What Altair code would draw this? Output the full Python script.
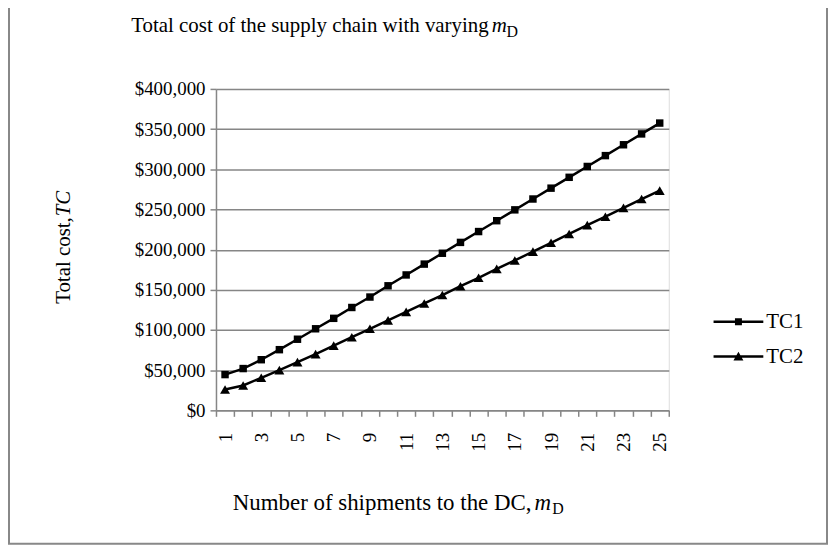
import altair as alt
import pandas as pd

# ---- data ----
shipments = list(range(1, 26))
tc1 = [44500, 52000, 63000, 75500, 88500, 101500, 114500, 128000, 141000, 155000,
       168500, 182000, 195500, 209000, 222500, 236000, 249500, 263000, 276500, 290000,
       303500, 317000, 330500, 344000, 357500]
tc2 = [26000, 31000, 40500, 50000, 60000, 70000, 80500, 91000, 101500, 112000,
       122500, 133000, 143500, 154500, 165000, 176000, 186500, 197500, 208500, 219500,
       230500, 241000, 252000, 263000, 273500]
series_names = ["TC1", "TC2"]
y_ticks = [0, 50000, 100000, 150000, 200000, 250000, 300000, 350000, 400000]

title_main = "Total cost of the supply chain with varying"
x_title_main = "Number of shipments to the DC,"
y_title_main = "Total cost, "
y_title_ital = "TC"

rows = []
for name, vals in zip(series_names, [tc1, tc2]):
    for m, v in zip(shipments, vals):
        rows.append({"m": m, "cost": v, "series": name})
df = pd.DataFrame(rows)

FONT = "Liberation Serif"
GRID = "#868686"
W, H = 455, 323

x_enc = alt.X(
    "m:O",
    scale=alt.Scale(type="band", domain=shipments, paddingInner=0, paddingOuter=0),
    axis=alt.Axis(
        title=None, labelAngle=270, tickBand="extent",
        labelExpr="datum.value % 2 == 1 ? datum.label : ''",
        labelFont=FONT, labelFontSize=19, labelColor="black", labelPadding=16,
        domainColor=GRID, domainWidth=1.5, tickColor=GRID, tickWidth=1.5, tickSize=6,
        grid=False,
    ),
)
y_enc = alt.Y(
    "cost:Q",
    scale=alt.Scale(domain=[0, 400000], nice=False),
    axis=alt.Axis(
        title=None, values=y_ticks, format="$,.0f",
        labelFont=FONT, labelFontSize=19, labelColor="black", labelPadding=5,
        domainColor=GRID, domainWidth=1.5, tickColor=GRID, tickWidth=1.5, tickSize=6,
        grid=True, gridColor=GRID, gridWidth=1.5,
    ),
)

base = alt.Chart(df)

lines = base.mark_line(color="black", strokeWidth=2.5).encode(x=x_enc, y=y_enc, detail="series:N")
points = base.mark_point(filled=True, color="black", opacity=1).encode(
    x=x_enc, y=y_enc,
    shape=alt.Shape("series:N", scale=alt.Scale(domain=series_names, range=["square", "triangle-up"]), legend=None),
    size=alt.Size("series:N", scale=alt.Scale(domain=series_names, range=[56, 100]), legend=None),
)

path1 = "M-1,-0.05H1V0.05H-1ZM-0.14,-0.14H0.14V0.14H-0.14Z"
path2 = "M-1,-0.05H1V0.05H-1ZM0,-0.2L0.2,0.16H-0.2Z"
legend_layer = base.mark_point(filled=True, color="black", size=2500, opacity=1).encode(
    shape=alt.Shape(
        "series:N",
        scale=alt.Scale(domain=series_names, range=[path1, path2]),
        legend=alt.Legend(
            title=None, orient="none", legendX=500, legendY=209,
            labelFont=FONT, labelFontSize=21, labelColor="black", labelOffset=3,
            symbolSize=2500, symbolFillColor="black", symbolStrokeWidth=0, rowPadding=-17,
        ),
    )
).transform_filter("false")

one = pd.DataFrame({"k": [0]})


def txt(text, x, y, size=19, italic=False, align="left", angle=0):
    kw = dict(text=text, font=FONT, fontSize=size, color="black", align=align, baseline="alphabetic")
    if italic:
        kw["fontStyle"] = "italic"
    if angle:
        kw["angle"] = angle
    return alt.Chart(one).mark_text(**kw).encode(x=alt.value(x), y=alt.value(y))


texts = [
    txt(title_main, 274, -57, size=21, align="right"),
    txt("m", 277, -57, size=21, italic=True),
    txt("D", 292, -52, size=16),
    txt(x_title_main, 317, 423, size=23, align="right"),
    txt("m", 320, 423, size=23, italic=True),
    txt("D", 338, 427, size=16),
    txt(y_title_main, -147, 216, size=21, angle=270),
    txt(y_title_ital, -147, 128, size=21, italic=True, angle=270),
]

frame = alt.Chart(one).mark_rect(fillOpacity=0, stroke="#888888", strokeWidth=2).encode(
    x=alt.value(-208), x2=alt.value(614), y=alt.value(-95), y2=alt.value(457)
)

chart = alt.layer(frame, lines, points, legend_layer, *texts).resolve_scale(
    shape="independent", size="independent"
).properties(
    width=W, height=H,
    autosize=alt.AutoSizeParams(type="none"),
    padding={"left": 209, "top": 80, "right": 160, "bottom": 135},
).configure_view(stroke=None).configure(background="white")

chart.save("out.html", embed_options={"renderer": "svg", "actions": False})
